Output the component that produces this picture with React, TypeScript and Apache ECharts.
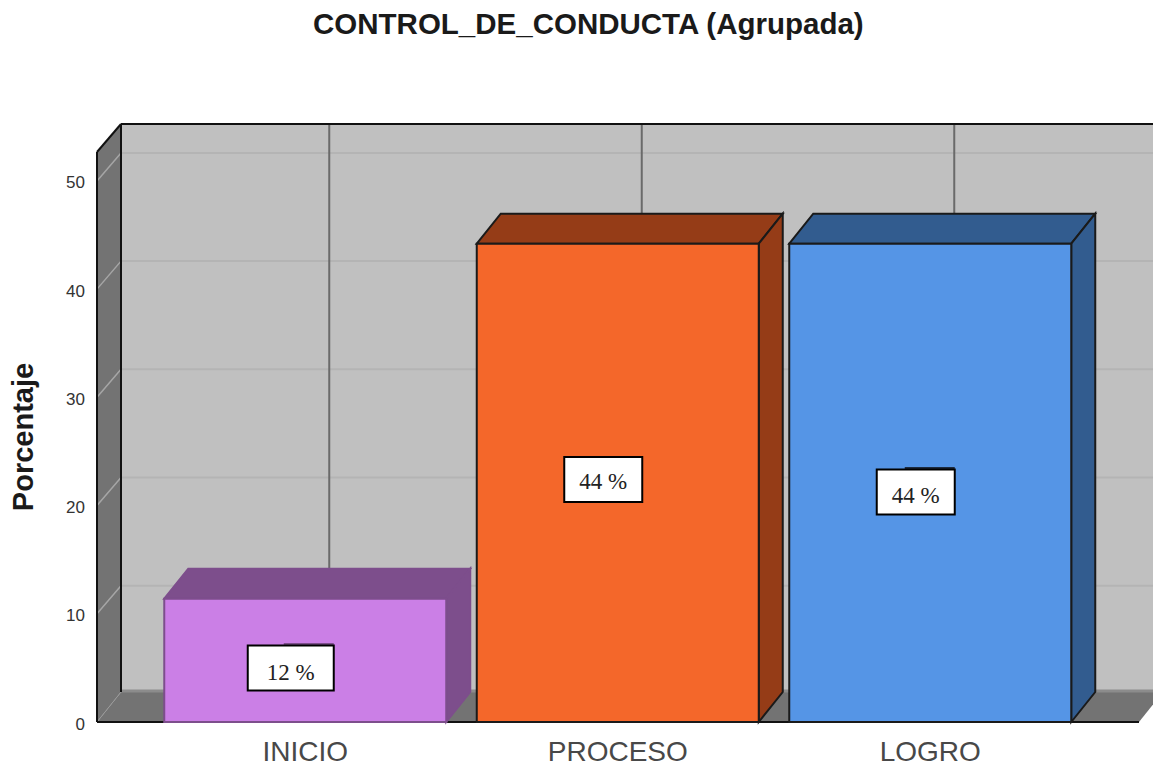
import React, { useEffect, useRef } from "react";
import * as echarts from "echarts";

const TITLE = "CONTROL_DE_CONDUCTA (Agrupada)";
const Y_NAME = "Porcentaje";
const categories = ["INICIO", "PROCESO", "LOGRO"];
const barHeights = [11.4, 44.2, 44.2];
const labels = ["12 %", "44 %", "44 %"];
const labelValues = [5, 22.4, 21.25];
const labelTextNudge = [4.5, 2, 3.5];
const frontColors = ["#cb7fe6", "#f4672a", "#5595e6"];
const shadeColors = ["#7d4e8c", "#953c17", "#325c8f"];
const edgeColors = ["#7d4e8c", "#1a1a1a", "#1a1a1a"];

const DX = 24;
const DY = 30;
const SANS = '"Liberation Sans", Arial, sans-serif';

const poly = (points: number[][], fill: string, stroke = "none", lineWidth = 0) => ({
  type: "polygon",
  shape: { points },
  style: { fill, stroke, lineWidth },
});
const seg = (x1: number, y1: number, x2: number, y2: number, stroke: string, lineWidth = 2) => ({
  type: "line",
  shape: { x1, y1, x2, y2 },
  style: { stroke, lineWidth },
});

const renderWalls = (params: any, api: any) => {
  const g = params.coordSys;
  const left = g.x - 52;
  const right = g.x + g.width + 52.5;
  const top = g.y;
  const base = g.y + g.height;
  const backTop = top - 28;
  const backBase = base - DY;
  const children: any[] = [
    { type: "rect", shape: { x: left + DX, y: backTop, width: right - left, height: backBase - backTop }, style: { fill: "#c0c0c0" } },
    poly([[left, top], [left + DX, backTop], [left + DX, backBase], [left, base]], "#737373"),
    poly([[left, base], [left + DX, backBase], [right + DX, backBase], [right, base]], "#737373"),
    seg(left + DX, backBase - 1, right + DX, backBase - 1, "#8c8c8c", 3),
    seg(left, base, left + DX, backBase, "#9a9a9a", 1),
  ];
  for (const v of [10, 20, 30, 40, 50]) {
    const y = api.coord([0, v])[1];
    children.push(seg(left, y, left + DX, y - 28, "#a6a6a6", 1.5));
    children.push(seg(left + DX, y - 28, right + DX, y - 28, "#b4b4b4", 2));
  }
  categories.forEach((_, i) => {
    const x = api.coord([i, 0])[0] + DX;
    children.push(seg(x, backTop, x, backBase, "#6a6a6a", 2));
  });
  children.push(seg(left, top, left, base, "#111", 2));
  children.push(seg(left, top, left + DX, backTop, "#111", 2));
  children.push(seg(left + DX, backTop, left + DX, backBase, "#111", 2));
  children.push(seg(left + DX, backTop, right + DX, backTop, "#111", 2));
  children.push(seg(left, base, right, base, "#111", 2));
  return { type: "group", children };
};

const renderBar = (params: any, api: any) => {
  const i = api.value(0);
  const [cx, y] = api.coord([i, api.value(1)]);
  const base = api.coord([i, 0])[1];
  const w = 282;
  const l = cx - w / 2;
  const r = cx + w / 2;
  const front = frontColors[i];
  const shade = shadeColors[i];
  const edge = edgeColors[i];
  const ly = api.coord([i, labelValues[i]])[1];
  const boxW = i === 0 ? 86 : 78;
  const boxL = cx - 14.5 - boxW / 2;
  const children: any[] = [
    poly([[l, y], [l + DX, y - DY], [r + DX, y - DY], [r, y]], shade, edge, 2),
    poly([[r, y], [r + DX, y - DY], [r + DX, base - DY], [r, base]], shade, edge, 2),
    poly([[l, y], [r, y], [r, base], [l, base]], front, edge, 2),
  ];
  if (i !== 1) {
    children.push({
      type: "rect",
      shape: { x: boxL + boxW - 50, y: ly - 25, width: 50, height: 4 },
      style: { fill: i === 0 ? shade : "#1c2b40" },
    });
  }
  children.push({
    type: "rect",
    shape: { x: boxL, y: ly - 22.5, width: boxW, height: 45 },
    style: { fill: "#ffffff", stroke: "#000000", lineWidth: 2 },
  });
  children.push({
    type: "text",
    style: {
      text: labels[i],
      x: boxL + boxW / 2,
      y: ly + labelTextNudge[i],
      align: "center",
      verticalAlign: "middle",
      fontFamily: '"Liberation Serif", serif',
      fontSize: 23,
      fill: "#222",
    },
  });
  return { type: "group", children };
};

export default function App() {
  const ref = useRef<HTMLDivElement>(null);
  useEffect(() => {
    document.body.style.margin = "0";
    const chart = echarts.init(ref.current!, null, { renderer: "svg" });
    chart.setOption({
      animation: false,
      backgroundColor: "#ffffff",
      title: {
        text: TITLE,
        left: 308,
        top: 3,
        textStyle: { fontFamily: SANS, fontSize: 29.5, fontWeight: "bold", color: "#1a1a1a" },
      },
      grid: { left: 149, right: 66.5, top: 152, bottom: 42 },
      xAxis: {
        type: "category",
        data: categories,
        axisLine: { show: false },
        axisTick: { show: false },
        splitLine: { show: false },
        axisLabel: { fontFamily: SANS, fontSize: 28, color: "#484848", margin: 15 },
      },
      yAxis: {
        type: "value",
        min: 0,
        max: 52.67,
        interval: 10,
        offset: 52,
        axisLine: { show: false },
        axisTick: { show: false },
        splitLine: { show: false },
        name: Y_NAME,
        nameLocation: "middle",
        nameRotate: 90,
        nameGap: 60,
        nameTextStyle: { fontFamily: SANS, fontSize: 29, fontWeight: "bold", color: "#1a1a1a" },
        axisLabel: { fontFamily: SANS, fontSize: 17, color: "#333", margin: 12, showMaxLabel: false, verticalAlign: "top", lineHeight: 4 },
      },
      series: [
        {
          type: "custom",
          z: 1,
          clip: false,
          silent: true,
          data: [[0, 0]],
          renderItem: renderWalls,
        },
        {
          type: "custom",
          z: 2,
          clip: false,
          data: barHeights.map((v, i) => [i, v]),
          encode: { x: 0, y: 1 },
          renderItem: renderBar,
        },
      ],
    });
    return () => chart.dispose();
  }, []);
  return <div ref={ref} style={{ width: 1153, height: 765, overflow: "hidden" }} />;
}
